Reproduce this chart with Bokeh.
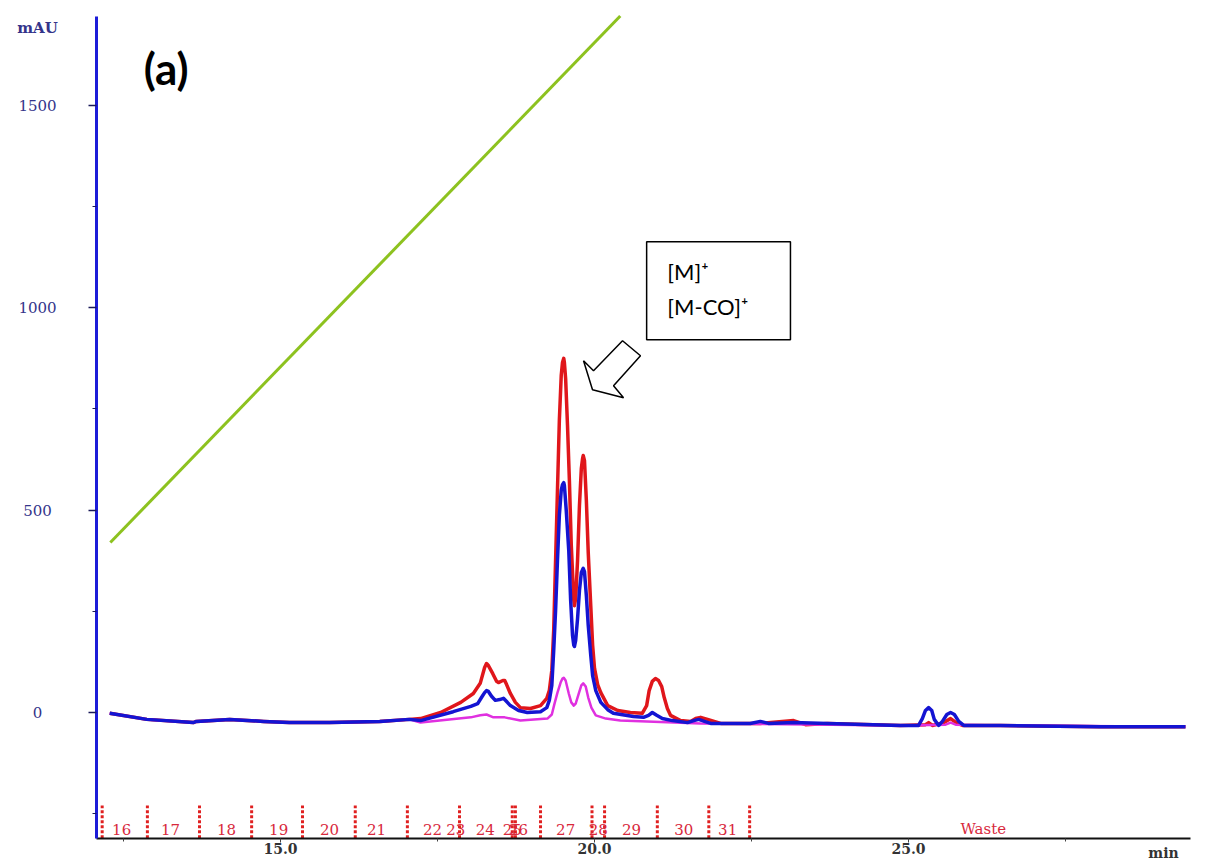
from bokeh.plotting import figure
from bokeh.models import Range1d, FixedTicker, PrintfTickFormatter, Label, BoxAnnotation, PolyAnnotation
from bokeh.core.properties import value
from bokeh.embed import file_html
from bokeh.resources import INLINE

# ---------------- data ----------------
red_t = [12.28, 12.87, 13.61, 13.66, 14.19, 14.73, 15.14, 15.78, 16.58, 17.05, 17.23, 17.55, 17.87,
         18.07, 18.18, 18.25, 18.28, 18.31, 18.38, 18.44, 18.47, 18.54, 18.57, 18.60, 18.66, 18.74,
         18.82, 18.98, 19.14, 19.24, 19.28, 19.32, 19.35, 19.38, 19.41, 19.44, 19.47, 19.49, 19.51,
         19.52, 19.54, 19.57, 19.60, 19.63, 19.67, 19.68, 19.70, 19.73, 19.76, 19.79, 19.81, 19.82,
         19.84, 19.87, 19.90, 19.94, 19.97, 20.00, 20.05, 20.10, 20.21, 20.37, 20.57, 20.76, 20.83,
         20.87, 20.92, 20.97, 21.02, 21.07, 21.11, 21.16, 21.21, 21.37, 21.53, 21.61, 21.69, 21.80,
         22.01, 22.64, 23.17, 23.36, 23.71, 24.87, 25.27, 25.32, 25.38, 25.56, 25.67, 25.76, 25.86,
         26.46, 28.06, 29.41]
red_v = [-2, -17, -25, -22, -17, -22, -25, -25, -22, -17, -15, 0, 25,
         47, 72, 111, 121, 116, 96, 77, 74, 79, 79, 69, 47, 25,
         12, 10, 17, 35, 54, 104, 203, 376, 549, 722, 833, 865, 875,
         865, 825, 709, 573, 413, 277, 264, 282, 376, 511, 603, 628, 635,
         623, 524, 395, 264, 166, 109, 69, 49, 17, 5, 0, -2, 17,
         54, 77, 84, 79, 64, 37, 10, -7, -20, -22, -15, -12, -17,
         -27, -27, -20, -30, -27, -32, -30, -25, -32, -25, -15, -25, -32,
         -32, -35, -35]

blue_t = [12.28, 12.87, 13.61, 13.66, 14.19, 14.73, 15.14, 15.78, 16.58, 17.05, 17.23, 17.75, 18.03,
          18.14, 18.20, 18.25, 18.28, 18.31, 18.36, 18.42, 18.49, 18.55, 18.60, 18.66, 18.79, 18.93,
          19.14, 19.24, 19.28, 19.32, 19.35, 19.38, 19.41, 19.44, 19.47, 19.49, 19.51, 19.52, 19.55,
          19.59, 19.62, 19.65, 19.67, 19.68, 19.70, 19.73, 19.76, 19.79, 19.81, 19.82, 19.84, 19.87,
          19.90, 19.94, 19.97, 20.02, 20.10, 20.21, 20.30, 20.62, 20.78, 20.86, 20.92, 20.99, 21.08,
          21.24, 21.48, 21.58, 21.66, 21.75, 21.85, 22.48, 22.64, 22.77, 23.17, 23.71, 24.87, 25.16,
          25.22, 25.27, 25.32, 25.37, 25.41, 25.48, 25.54, 25.61, 25.67, 25.73, 25.80, 25.88, 26.46,
          28.06, 29.41]
blue_v = [-2, -17, -25, -22, -17, -22, -25, -25, -22, -17, -20, 2, 15,
          22, 37, 49, 54, 52, 40, 30, 32, 35, 27, 17, 5, 0,
          2, 12, 30, 67, 153, 252, 376, 487, 549, 563, 568, 561, 499,
          400, 277, 190, 166, 163, 178, 232, 301, 346, 353, 356, 348, 289,
          215, 141, 91, 54, 25, 7, -2, -10, -12, -7, 0, -7, -15,
          -20, -25, -20, -17, -22, -27, -27, -22, -27, -25, -27, -32, -32,
          -15, 5, 12, 5, -17, -32, -22, -5, 0, -5, -22, -32, -32,
          -35, -35]

mag_t = [12.28, 12.87, 13.61, 13.66, 14.19, 14.73, 15.14, 15.78, 16.58, 17.05, 17.23, 18.03, 18.18,
         18.28, 18.39, 18.57, 18.82, 19.25, 19.32, 19.36, 19.41, 19.46, 19.49, 19.51, 19.54, 19.59,
         19.63, 19.67, 19.70, 19.75, 19.79, 19.82, 19.86, 19.90, 19.95, 20.02, 20.18, 20.41, 21.69,
         24.87, 25.59, 25.67, 25.75, 26.46, 29.41]
mag_v = [-2, -17, -25, -22, -17, -22, -25, -25, -22, -17, -25, -12, -7,
         -5, -12, -12, -20, -15, -5, 20, 49, 74, 84, 86, 79, 47,
         25, 17, 22, 47, 67, 72, 64, 37, 12, -7, -15, -20, -27,
         -32, -30, -25, -30, -32, -35]

grad_t = [12.29, 20.41]
grad_v = [420, 1721]

frac_t = [12.16, 12.88, 13.71, 14.54, 15.35, 16.19, 17.02, 17.85, 18.69, 18.74, 19.14, 19.96,
          20.16, 21.00, 21.82, 22.47]
frac_labels = ["16", "17", "18", "19", "20", "21", "22", "23", "24", "25", "26", "27", "28",
               "29", "30", "31", "Waste"]
frac_label_t = [12.47, 13.25, 14.14, 14.97, 15.78, 16.53, 17.42, 17.79, 18.26, 18.69, 18.79,
                19.54, 20.06, 20.59, 21.42, 22.12, 26.19]

y_ticks = [0, 500, 1000, 1500]
y_tick_labels = ["0", "500", "1000", "1500"]
y_minor = [-250, 250, 750, 1250]
x_ticks = [15, 20, 25]
x_minor = [12.5, 17.5, 22.5, 27.5]

# ---------------- layout / styles ----------------
AX_X0, AX_X1 = 12.07, 29.49       # extent of the time axis
AX_Y0, AX_Y1 = -311, 1721         # extent of the absorbance axis
VIEW_X = (10.541, 29.745)         # whole canvas
VIEW_Y = (-365.7, 1759.3)
MARK_TOP = -230
FRAC_LABEL_Y = -289
YLAB_X = 11.13

p = figure(width=1206, height=860, output_backend="svg", toolbar_location=None,
           x_range=Range1d(*VIEW_X), y_range=Range1d(*VIEW_Y),
           min_border_left=0, min_border_right=0, min_border_top=0, min_border_bottom=0)
p.grid.visible = False
p.outline_line_color = None
p.background_fill_color = "white"
p.border_fill_color = "white"

yax = p.yaxis[0]
yax.fixed_location = AX_X0
yax.bounds = (AX_Y0, AX_Y1)
yax.ticker = FixedTicker(ticks=y_ticks, minor_ticks=y_minor)
yax.axis_line_color = "#1c1cd8"
yax.axis_line_width = 3
yax.major_tick_out = 8
yax.major_tick_in = 0
yax.minor_tick_out = 4
yax.minor_tick_in = 0
yax.major_tick_line_color = "#1a1a5a"
yax.minor_tick_line_color = "#1a1a5a"
yax.major_tick_line_width = 1.5
yax.major_label_text_color = None

xax = p.xaxis[0]
xax.fixed_location = AX_Y0
xax.bounds = (AX_X0, AX_X1)
xax.ticker = FixedTicker(ticks=x_ticks, minor_ticks=x_minor)
xax.formatter = PrintfTickFormatter(format="%.1f")
xax.axis_line_color = "#111111"
xax.axis_line_width = 2
xax.major_tick_out = 4
xax.major_tick_in = 0
xax.minor_tick_out = 3
xax.minor_tick_in = 0
xax.major_tick_line_color = "#444444"
xax.minor_tick_line_color = "#444444"
xax.major_label_standoff = 1
xax.major_label_text_font = "DejaVu Serif"
xax.major_label_text_font_size = "14px"
xax.major_label_text_font_style = "bold"
xax.major_label_text_color = "#333333"

# gradient line
p.line(grad_t, grad_v, line_color="#8dc21f", line_width=3)

# chromatograms
p.line(red_t, red_v, line_color="#e0161b", line_width=3.5, line_join="round")
p.line(mag_t, mag_v, line_color="#e030e0", line_width=2.5, line_join="round")
p.line(blue_t, blue_v, line_color="#1414d2", line_width=3.5, line_join="round")

# fraction markers
p.segment(x0=frac_t, y0=[AX_Y0] * len(frac_t), x1=frac_t, y1=[MARK_TOP] * len(frac_t),
          line_color="#e02020", line_width=3, line_dash="3 2")
p.text(x=frac_label_t, y=[FRAC_LABEL_Y] * len(frac_label_t), text=frac_labels,
       text_font=value("DejaVu Serif"), text_font_size="15px", text_color="#d8283c",
       text_align="center", text_baseline="middle")

# y tick labels & units
p.text(x=[YLAB_X] * len(y_ticks), y=y_ticks, text=y_tick_labels,
       text_font=value("DejaVu Serif"), text_font_size="15px",
       text_color="#34348a", text_align="center", text_baseline="middle")
p.add_layout(Label(x=YLAB_X, y=1691, text="mAU", text_align="center",
                   text_baseline="middle", text_font="DejaVu Serif", text_font_size="15px",
                   text_color="#34348a", text_font_style="bold"))
p.add_layout(Label(x=29.06, y=-346, text="min", text_align="center",
                   text_baseline="middle", text_font="DejaVu Serif", text_font_size="14px",
                   text_color="#333333", text_font_style="bold"))

# panel letter
p.add_layout(Label(x=13.18, y=1593, text="(a)", text_align="center", text_baseline="middle",
                   text_font="Lato", text_font_size="44px", text_font_style="bold",
                   text_color="black"))

# annotation box + arrow
p.add_layout(BoxAnnotation(left=20.83, right=23.12, top=1163, bottom=921,
                           fill_color=None, line_color="black", line_alpha=1.0, line_width=1.5))
p.add_layout(Label(x=21.16, y=1089, text="[M]⁺", text_align="left", text_baseline="middle",
                   text_font="Lato", text_font_size="22px", text_color="black"))
p.add_layout(Label(x=21.16, y=1002, text="[M-CO]⁺", text_align="left", text_baseline="middle",
                   text_font="Lato", text_font_size="22px", text_color="black"))
arrow_t = [20.446, 20.732, 20.303, 20.462, 19.968, 19.825, 19.984]
arrow_v = [918.5, 881.5, 807.4, 777.8, 797.5, 869.1, 844.4]
p.add_layout(PolyAnnotation(xs=arrow_t, ys=arrow_v, fill_color="white", fill_alpha=1.0,
                            line_color="black", line_alpha=1.0, line_width=1.5))

open("out.html", "w").write(file_html(p, INLINE))
